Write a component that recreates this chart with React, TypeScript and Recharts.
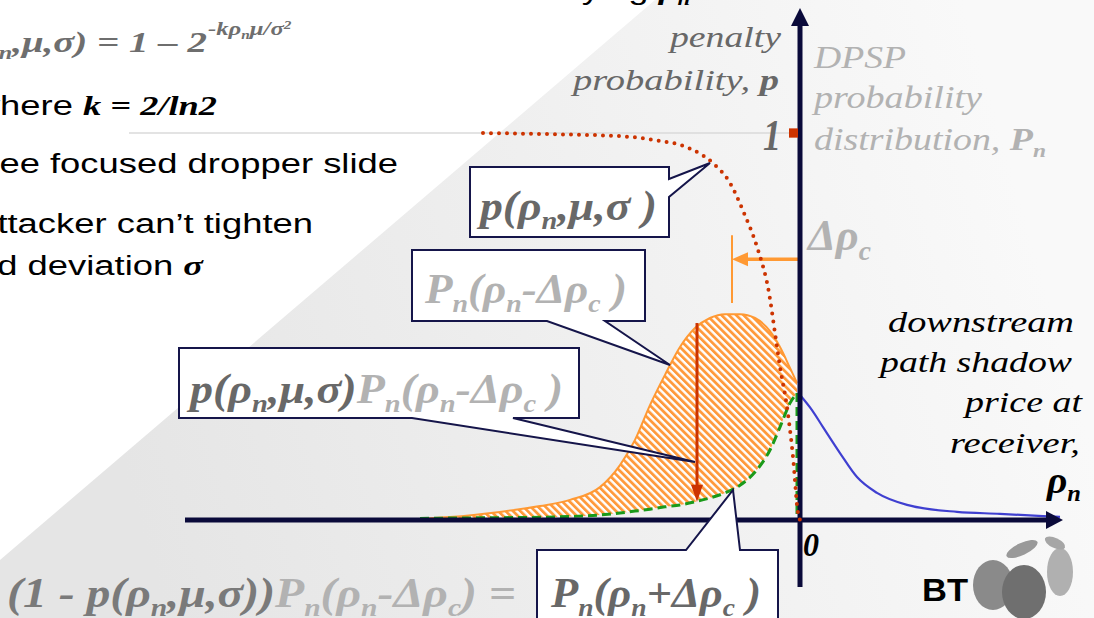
import React from "react";
import {
    ComposedChart,
    Area,
    Line,
    XAxis,
    YAxis,
    ReferenceLine,
    ReferenceDot,
    ReferenceArea,
} from "recharts";

// rho positions (shadow price), 0 = receiver
const hatchRho = [-3.8, -3.5, -3.0, -2.6, -2.3, -2.0, -1.8, -1.65, -1.5, -1.35, -1.2, -1.05, -0.9, -0.75, -0.6, -0.45, -0.3, -0.2, -0.1, -0.03];
// Pn(rho - delta rho c), the shifted distribution
const shiftedDist = [0.004, 0.008, 0.021, 0.036, 0.052, 0.085, 0.142, 0.207, 0.297, 0.375, 0.447, 0.496, 0.522, 0.532, 0.532, 0.522, 0.488, 0.447, 0.393, 0.354];
// (1 - p) Pn(rho - delta rho c)
const survivorDist = [0.004, 0.005, 0.006, 0.007, 0.009, 0.013, 0.018, 0.023, 0.028, 0.034, 0.039, 0.047, 0.057, 0.07, 0.09, 0.124, 0.181, 0.24, 0.302, 0.328];

const dropRho = [-0.03, -0.03];
const dropVal = [0.328, 0];

// penalty probability p(rho, mu, sigma)
const penaltyRho = [-3.17, -2.5, -1.81, -1.46, -1.11, -0.87, -0.7, -0.56, -0.42, -0.31, -0.25, -0.2, -0.13, -0.07, -0.02, 0];
const penaltyP = [1.0, 0.997, 0.992, 0.982, 0.961, 0.922, 0.871, 0.793, 0.698, 0.587, 0.483, 0.395, 0.292, 0.163, 0.018, 0];

// DPSP distribution right of the receiver
const shadowRho = [0, 0.12, 0.23, 0.4, 0.57, 0.77, 1.07, 1.57, 2.0, 2.43, 2.6];
const shadowP = [0.323, 0.284, 0.24, 0.173, 0.111, 0.07, 0.039, 0.021, 0.016, 0.01, 0.008];

const hatchData = hatchRho.map((x, i) => ({
    x,
    shifted: shiftedDist[i],
    survivor: survivorDist[i],
    band: [survivorDist[i], shiftedDist[i]],
}));
const dropData = dropRho.map((x, i) => ({ x, y: dropVal[i] }));
const penaltyData = penaltyRho.map((x, i) => ({ x, y: penaltyP[i] }));
const shadowData = shadowRho.map((x, i) => ({ x, y: shadowP[i] }));

const W = 1094;
const H = 618;
const NAVY = "#0a0a3a";
const ORANGE = "#ff9933";
const RED = "#cc3300";
const DARK = "#686868";
const LIGHT = "#b2b2b2";
const SERIF = '"Liberation Serif", Tinos, "DejaVu Serif", serif';
const SANS = '"Liberation Sans", Arimo, Arial, sans-serif';

type Part = { t: string; sub?: boolean; sup?: boolean; fill?: string; bold?: boolean; italic?: boolean; family?: string };

function Parts({ parts, size }: { parts: Part[]; size: number }) {
    let shift = 0;
    return (
        <>
            {parts.map((p, i) => {
                const target = p.sub ? size * 0.22 : p.sup ? -size * 0.32 : 0;
                const dy = target - shift;
                shift = target;
                const st: React.CSSProperties = {};
                if (p.family) st.fontFamily = p.family;
                if (p.bold !== undefined) st.fontWeight = p.bold ? "bold" : "normal";
                if (p.italic !== undefined) st.fontStyle = p.italic ? "italic" : "normal";
                return (
                    <tspan
                        key={i}
                        dy={dy}
                        fontSize={p.sub || p.sup ? size * 0.62 : size}
                        fill={p.fill}
                        style={st}
                    >
                        {p.t}
                    </tspan>
                );
            })}
        </>
    );
}

function Txt(props: {
    x: number;
    y: number;
    len?: number;
    sx?: number;
    anchor?: "start" | "end" | "middle";
    size: number;
    fill?: string;
    bold?: boolean;
    italic?: boolean;
    family?: string;
    parts: Part[];
}) {
    const { x, y, len, sx, anchor = "start", size, fill = "#000", bold, italic, family = SERIF, parts } = props;
    const common = {
        textAnchor: anchor,
        fontSize: size,
        fill,
        style: {
            fontFamily: family,
            fontWeight: bold ? "bold" : "normal",
            fontStyle: italic ? "italic" : "normal",
        } as React.CSSProperties,
    };
    if (sx) {
        return (
            <g transform={`translate(${x},${y}) scale(${sx},1)`}>
                <text x={0} y={0} {...common}>
                    <Parts parts={parts} size={size} />
                </text>
            </g>
        );
    }
    return (
        <text x={x} y={y} textLength={len} lengthAdjust="spacingAndGlyphs" {...common}>
            <Parts parts={parts} size={size} />
        </text>
    );
}

const tri = (pts: (cx: number, cy: number) => number[][], fill: string) =>
    (props: any) => {
        const { cx, cy } = props;
        return <polygon points={pts(cx, cy).map((p) => p.join(",")).join(" ")} fill={fill} />;
    };

function Background() {
    return (
        <svg width={W} height={H} style={{ position: "absolute", left: 0, top: 0 }}>
            <defs>
                <linearGradient id="bgGrad" gradientUnits="userSpaceOnUse" x1="150" y1="560" x2="1050" y2="300">
                    <stop offset="0" stopColor="#e5e5e5" />
                    <stop offset="1" stopColor="#f9f9f9" />
                </linearGradient>
                <pattern id="hatch" patternUnits="userSpaceOnUse" width="5.2" height="10" patternTransform="rotate(-45)">
                    <rect width="5.2" height="10" fill="#ffffff" />
                    <rect width="2.8" height="10" fill="#ff9a3c" />
                </pattern>
            </defs>
            <rect width={W} height={H} fill="url(#bgGrad)" />
            <polygon points="0,0 655,0 0,560" fill="#ffffff" />
        </svg>
    );
}

function Overlay() {
    const box = { fill: "#ffffff", stroke: "#15154a", strokeWidth: 2, strokeLinejoin: "miter" as const };
    return (
        <svg width={W} height={H} style={{ position: "absolute", left: 0, top: 0, pointerEvents: "none" }}>
            {/* slide text, cut at the edges */}
            <Txt x={690} y={-1} sx={1.3} anchor="end" size={28} family={SANS} parts={[
                { t: "varying " },
                { t: "ρ", family: SERIF, bold: true, italic: true },
                { t: "n", sub: true, family: SERIF, bold: true, italic: true },
            ]} />
            <Txt x={207} y={52} sx={1.3} anchor="end" size={30} bold italic fill="#6e6e6e" parts={[
                { t: "p(ρ" },
                { t: "n", sub: true },
                { t: ",μ,σ) = 1 – 2" },
            ]} />
            <Txt x={208} y={35} sx={1.3} size={19} bold italic fill="#6e6e6e" parts={[
                { t: "-kρ" },
                { t: "n", sub: true },
                { t: "μ/σ" },
                { t: "2", sup: true },
            ]} />
            <Txt x={217} y={115} sx={1.3} anchor="end" size={28} family={SANS} parts={[
                { t: "where " },
                { t: "k = 2/ln2", family: SERIF, bold: true, italic: true },
            ]} />
            <Txt x={398} y={173} sx={1.3} anchor="end" size={28} family={SANS} parts={[{ t: "see focused dropper slide" }]} />
            <Txt x={313} y={233} sx={1.3} anchor="end" size={28} family={SANS} parts={[{ t: "attacker can’t tighten" }]} />
            <Txt x={203} y={275} sx={1.3} anchor="end" size={28} family={SANS} parts={[
                { t: "standard deviation " },
                { t: "σ", family: SERIF, bold: true, italic: true },
            ]} />

            {/* axis labels */}
            <Txt x={670} y={47} len={111} size={30} italic fill={DARK} parts={[{ t: "penalty" }]} />
            <Txt x={573} y={90} len={206} size={30} italic fill={DARK} parts={[
                { t: "probability, " },
                { t: "p", bold: true },
            ]} />
            <Txt x={781} y={150} len={18} anchor="end" size={44} bold italic fill={DARK} parts={[{ t: "1" }]} />
            <Txt x={814} y={68} len={92} size={32} italic fill={LIGHT} parts={[{ t: "DPSP" }]} />
            <Txt x={814} y={108} len={168} size={32} italic fill={LIGHT} parts={[{ t: "probability" }]} />
            <Txt x={814} y={150} len={232} size={32} italic fill={LIGHT} parts={[
                { t: "distribution, " },
                { t: "P", bold: true },
                { t: "n", sub: true, bold: true },
            ]} />
            <Txt x={808} y={250} len={63} size={44} bold italic fill={LIGHT} parts={[
                { t: "Δρ" },
                { t: "c", sub: true },
            ]} />
            <Txt x={888} y={332} len={186} size={30} italic parts={[{ t: "downstream" }]} />
            <Txt x={880} y={372} len={192} size={30} italic parts={[{ t: "path shadow" }]} />
            <Txt x={965} y={412} len={117} size={30} italic parts={[{ t: "price at" }]} />
            <Txt x={950} y={453} len={130} size={30} italic parts={[{ t: "receiver," }]} />
            <Txt x={1047} y={493} len={34} size={38} bold italic parts={[
                { t: "ρ" },
                { t: "n", sub: true },
            ]} />
            <Txt x={803} y={556} len={16} size={34} bold italic parts={[{ t: "0" }]} />

            {/* callouts */}
            <path d="M470,167 H669 V179 L710,163 L669,197 V237 H470 Z" {...box} />
            <Txt x={480} y={220} len={177} size={42} bold italic fill={DARK} parts={[
                { t: "p(ρ" },
                { t: "n", sub: true },
                { t: ",μ,σ )" },
            ]} />

            <path d="M412,250 H645 V321 H605 L670,365 L547,321 H412 Z" {...box} />
            <Txt x={425} y={303} len={202} size={42} bold italic fill={LIGHT} parts={[
                { t: "P" },
                { t: "n", sub: true },
                { t: "(ρ" },
                { t: "n", sub: true },
                { t: "-Δρ" },
                { t: "c", sub: true },
                { t: " )" },
            ]} />

            <path d="M179,348 H579 V418 H513 L695,462 L412,418 H179 Z" {...box} />
            <Txt x={190} y={403} len={373} size={42} bold italic fill={DARK} parts={[
                { t: "p(ρ" },
                { t: "n", sub: true },
                { t: ",μ,σ)" },
                { t: "P", fill: LIGHT },
                { t: "n", sub: true, fill: LIGHT },
                { t: "(ρ", fill: LIGHT },
                { t: "n", sub: true, fill: LIGHT },
                { t: "-Δρ", fill: LIGHT },
                { t: "c", sub: true, fill: LIGHT },
                { t: " )", fill: LIGHT },
            ]} />

            <path d="M537,550 H686 L733,490 L740,550 H778 V630 H537 Z" {...box} />
            <Txt x={551} y={607} len={210} size={42} bold italic fill={DARK} parts={[
                { t: "P" },
                { t: "n", sub: true },
                { t: "(ρ" },
                { t: "n", sub: true },
                { t: "+Δρ" },
                { t: "c", sub: true },
                { t: " )" },
            ]} />

            <Txt x={7} y={607} len={509} size={42} bold italic fill="#7a7a7a" parts={[
                { t: "(1 - p(ρ" },
                { t: "n", sub: true },
                { t: ",μ,σ))" },
                { t: "P", fill: LIGHT },
                { t: "n", sub: true, fill: LIGHT },
                { t: "(ρ", fill: LIGHT },
                { t: "n", sub: true, fill: LIGHT },
                { t: "-Δρ", fill: LIGHT },
                { t: "c", sub: true, fill: LIGHT },
                { t: ") =", fill: LIGHT },
            ]} />

            {/* BT mark */}
            <Txt x={922} y={601} len={46} size={31} bold family={SANS} parts={[{ t: "BT" }]} />
            <g>
                <ellipse cx={993} cy={585} rx={20} ry={25} fill="#8a8a8a" />
                <ellipse cx={1024} cy={592} rx={22} ry={27} fill="#6f6f6f" />
                <ellipse cx={1060} cy={572} rx={13} ry={24} fill="#b0b0b0" />
                <ellipse cx={1022} cy={549} rx={17} ry={6} fill="#999999" transform="rotate(-25 1022 549)" />
                <ellipse cx={1055} cy={543} rx={11} ry={5} fill="#a6a6a6" transform="rotate(25 1055 543)" />
            </g>
        </svg>
    );
}

export default function App() {
    return (
        <div style={{ position: "absolute", left: 0, top: 0, width: W, height: H, overflow: "hidden" }}>
            <Background />
            <div style={{ position: "absolute", left: 0, top: 0 }}>
                <ComposedChart width={W} height={H} margin={{ top: 0, right: 0, bottom: 0, left: 0 }}>
                    <XAxis type="number" dataKey="x" domain={[-8, 2.94]} allowDataOverflow hide />
                    <YAxis type="number" domain={[-0.2532, 1.3437]} allowDataOverflow hide />
                    <ReferenceLine segment={[{ x: -6.71, y: 1 }, { x: 0, y: 1 }]} stroke="#dadada" strokeWidth={1.5} />
                    <Area
                        data={hatchData}
                        dataKey="band"
                        type="monotone"
                        fill="url(#hatch)"
                        fillOpacity={1}
                        stroke="none"
                        dot={false}
                        activeDot={false}
                        isAnimationActive={false}
                    />
                    <Line data={hatchData} dataKey="shifted" type="monotone" stroke={ORANGE} strokeWidth={2} dot={false} activeDot={false} isAnimationActive={false} />
                    <Line data={hatchData} dataKey="survivor" type="monotone" stroke="#1a9a1a" strokeWidth={3} strokeDasharray="9 5" dot={false} activeDot={false} isAnimationActive={false} />
                    <Line data={dropData} dataKey="y" type="linear" stroke="#1a9a1a" strokeWidth={3} strokeDasharray="9 5" dot={false} activeDot={false} isAnimationActive={false} />
                    <Line data={shadowData} dataKey="y" type="monotone" stroke="#3f3fd0" strokeWidth={2.2} dot={false} activeDot={false} isAnimationActive={false} />

                    {/* axes */}
                    <ReferenceLine segment={[{ x: -6.15, y: 0 }, { x: 2.5, y: 0 }]} stroke={NAVY} strokeWidth={5} zIndex={900} />
                    <ReferenceDot x={2.63} y={0} r={1} zIndex={900} shape={tri((cx, cy) => [[cx, cy], [cx - 17, cy - 9], [cx - 17, cy + 9]], NAVY)} />
                    <ReferenceLine segment={[{ x: 0, y: -0.173 }, { x: 0, y: 1.28 }]} stroke={NAVY} strokeWidth={5} zIndex={900} />
                    <ReferenceDot x={0} y={1.323} r={1} zIndex={900} shape={tri((cx, cy) => [[cx, cy], [cx - 9, cy + 18], [cx + 9, cy + 18]], NAVY)} />
                    <ReferenceArea x1={-0.11} x2={-0.02} y1={0.988} y2={1.012} fill={RED} fillOpacity={1} stroke="none" zIndex={900} />

                    {/* delta rho c shift marker */}
                    <ReferenceLine segment={[{ x: -0.02, y: 0.674 }, { x: -0.55, y: 0.674 }]} stroke={ORANGE} strokeWidth={3.5} />
                    <ReferenceDot x={-0.68} y={0.674} r={1} shape={tri((cx, cy) => [[cx, cy], [cx + 16, cy - 7], [cx + 16, cy + 7]], ORANGE)} />
                    <ReferenceLine segment={[{ x: -0.68, y: 0.736 }, { x: -0.68, y: 0.561 }]} stroke={ORANGE} strokeWidth={2} />

                    {/* p * Pn arrow */}
                    <ReferenceLine segment={[{ x: -1.03, y: 0.509 }, { x: -1.03, y: 0.085 }]} stroke={RED} strokeWidth={3} zIndex={950} />
                    <ReferenceDot x={-1.03} y={0.047} r={1} zIndex={950} shape={tri((cx, cy) => [[cx, cy], [cx - 6, cy - 17], [cx + 6, cy - 17]], RED)} />

                    <Line
                        data={penaltyData}
                        dataKey="y"
                        type="monotone"
                        stroke={RED}
                        strokeWidth={4}
                        strokeDasharray="0 8"
                        strokeLinecap="round"
                        dot={false}
                        activeDot={false}
                        isAnimationActive={false}
                        zIndex={1000}
                    />
                </ComposedChart>
            </div>
            <Overlay />
        </div>
    );
}
